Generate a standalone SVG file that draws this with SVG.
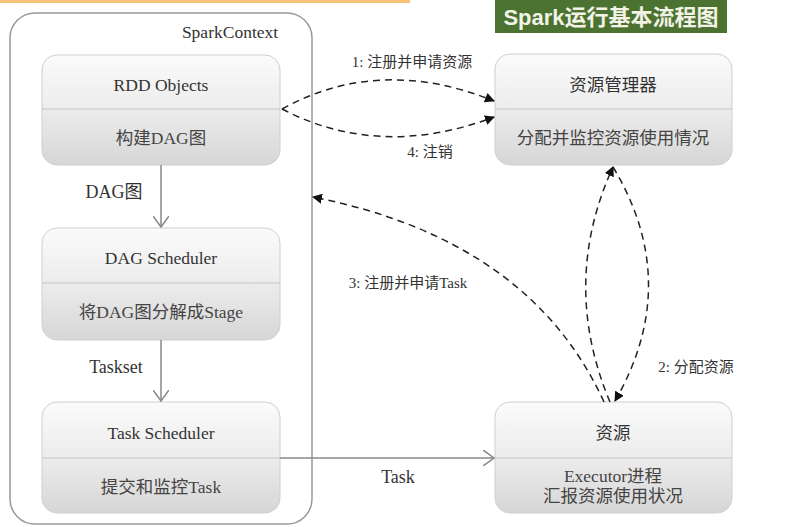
<svg xmlns="http://www.w3.org/2000/svg" width="801" height="527" viewBox="0 0 801 527">
<defs>
<linearGradient id="g" x1="0" y1="0" x2="0" y2="1">
<stop offset="0" stop-color="#fbfbfb"/>
<stop offset="0.5" stop-color="#ececec"/>
<stop offset="1" stop-color="#d6d6d6"/>
</linearGradient>
<marker id="fill" viewBox="0 0 10 10" refX="9" refY="5" markerWidth="10" markerHeight="10" markerUnits="userSpaceOnUse" orient="auto">
<path d="M0,0 L10,5 L0,10 z" fill="#111"/>
</marker>
<marker id="open" viewBox="0 0 12 16" refX="11" refY="8" markerWidth="12" markerHeight="16" markerUnits="userSpaceOnUse" orient="auto">
<path d="M0,0 L11,8 L0,16" fill="none" stroke="#888" stroke-width="1.5"/>
</marker>
</defs>
<style>
.box{fill:url(#g);stroke:#cfcfcf;stroke-width:1}
.div{stroke:#c4c4c4;stroke-width:1}
.t{font-family:"Liberation Serif","Noto Sans CJK SC",serif;font-size:17.5px;fill:#333;text-anchor:middle}
.s{font-family:"Liberation Serif","Noto Sans CJK SC",serif;font-size:17.5px;fill:#444;text-anchor:middle}
.lbl{font-family:"Liberation Serif","Noto Sans CJK SC",serif;font-size:15px;fill:#333;text-anchor:middle}
.lbl2{font-family:"Liberation Serif","Noto Sans CJK SC",serif;font-size:18px;fill:#333;text-anchor:middle}
.dash{fill:none;stroke:#222;stroke-width:1.5;stroke-dasharray:7 5}
.solid{fill:none;stroke:#888;stroke-width:1.5}
</style>
<rect width="801" height="527" fill="#ffffff"/>
<rect x="0" y="0" width="410" height="3" fill="#f8c377"/>
<g id="title">
<rect x="495" y="0" width="232" height="33" fill="#4b7230"/>
<text x="611" y="25" font-family="'Liberation Sans','Noto Sans CJK SC',sans-serif" font-size="22" font-weight="bold" fill="#f2f2e6" text-anchor="middle">Spark运行基本流程图</text>
</g>
<g id="sparkcontext">
<rect x="10" y="13" width="302" height="511" rx="25" fill="none" stroke="#999" stroke-width="1.5"/>
<text class="t" x="230" y="38">SparkContext</text>
</g>
<g id="rdd">
<rect class="box" x="42" y="55" width="238" height="110" rx="15"/>
<line class="div" x1="42" y1="109" x2="280" y2="109"/>
<text class="t" x="161" y="91">RDD Objects</text>
<text class="s" x="161" y="144">构建DAG图</text>
</g>
<g id="dagscheduler">
<rect class="box" x="42" y="228" width="238" height="112" rx="15"/>
<line class="div" x1="42" y1="283" x2="280" y2="283"/>
<text class="t" x="161" y="264">DAG Scheduler</text>
<text class="s" x="161" y="318">将DAG图分解成Stage</text>
</g>
<g id="taskscheduler">
<rect class="box" x="42" y="402" width="238" height="111" rx="15"/>
<line class="div" x1="42" y1="458" x2="280" y2="458"/>
<text class="t" x="161" y="439">Task Scheduler</text>
<text class="s" x="161" y="493">提交和监控Task</text>
</g>
<g id="rm">
<rect class="box" x="495" y="54" width="237" height="111" rx="15"/>
<line class="div" x1="495" y1="109" x2="732" y2="109"/>
<text class="t" x="613" y="91">资源管理器</text>
<text class="s" x="613" y="144">分配并监控资源使用情况</text>
</g>
<g id="res">
<rect class="box" x="495" y="402" width="237" height="111" rx="15"/>
<line class="div" x1="495" y1="458" x2="732" y2="458"/>
<text class="t" x="613" y="439">资源</text>
<text class="s" x="613" y="482" font-size="16">Executor进程</text>
<text class="s" x="613" y="502" font-size="16">汇报资源使用状况</text>
</g>
<g id="connectors">
<line class="solid" x1="161" y1="165" x2="161" y2="227" marker-end="url(#open)"/>
<line class="solid" x1="161" y1="340" x2="161" y2="401" marker-end="url(#open)"/>
<line class="solid" x1="280" y1="458" x2="494" y2="458" marker-end="url(#open)"/>
<path class="dash" d="M282,109 Q380,55 494,101" marker-end="url(#fill)"/>
<path class="dash" d="M282,109 Q380,160 494,117" marker-end="url(#fill)"/>
<path class="dash" d="M604,402 Q530,240 313,197" marker-end="url(#fill)"/>
<path class="dash" d="M610,402 Q560,283 613,167" marker-end="url(#fill)"/>
<path class="dash" d="M613,167 Q683,283 615,401" marker-end="url(#fill)"/>
<text class="lbl" x="412" y="67">1: 注册并申请资源</text>
<text class="lbl" x="430" y="157">4: 注销</text>
<text class="lbl" x="408" y="288">3: 注册并申请Task</text>
<text class="lbl" x="696" y="372">2: 分配资源</text>
<text class="lbl2" x="114" y="198">DAG图</text>
<text class="lbl2" x="116" y="373">Taskset</text>
<text class="lbl2" x="398" y="483">Task</text>
</g>
</svg>
